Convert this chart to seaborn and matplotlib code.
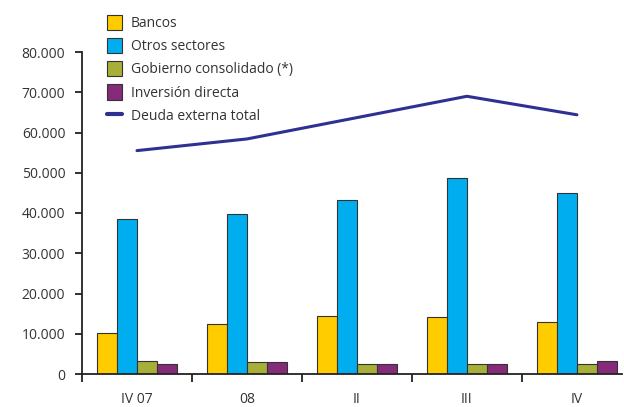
import numpy as np
import pandas as pd
import matplotlib
matplotlib.use("Agg")
import matplotlib.pyplot as plt
from matplotlib.patches import Patch
from matplotlib.lines import Line2D
from matplotlib.ticker import FuncFormatter, FixedLocator
import seaborn as sns

categories = ["IV 07", "08", "II", "III", "IV"]
bancos = [10300, 12400, 14500, 14100, 12800]
otros_sectores = [38600, 39800, 43300, 48800, 45000]
gobierno = [3300, 2900, 2500, 2500, 2500]
inversion = [2500, 2900, 2500, 2500, 3300]
deuda_total = [55500, 58400, 63700, 69000, 64400]
series_names = ["Bancos", "Otros sectores", "Gobierno consolidado (*)", "Inversión directa"]
line_name = "Deuda externa total"
y_ticks = [0, 10000, 20000, 30000, 40000, 50000, 60000, 70000, 80000]

colors = ["#FFCC00", "#00AEEF", "#A8AF39", "#862A7A"]
line_color = "#2E3192"

sns.set_theme(style="white")
plt.rcParams["font.family"] = ["Open Sans", "DejaVu Sans"]

rows = []
for name, vals in zip(series_names, [bancos, otros_sectores, gobierno, inversion]):
    for c, v in zip(categories, vals):
        rows.append({"cat": c, "serie": name, "valor": v})
df = pd.DataFrame(rows)

fig = plt.figure(figsize=(6.24, 4.07), dpi=100)
ax = fig.add_axes([82 / 624, (407 - 374) / 407, (622 - 82) / 624, (374 - 52) / 407])

sns.barplot(data=df, x="cat", y="valor", hue="serie", order=categories,
            hue_order=series_names, palette=colors, saturation=1, width=0.73, gap=0,
            edgecolor="#333333", linewidth=0.8, errorbar=None, ax=ax, legend=False)
sns.pointplot(x=categories, y=deuda_total, order=categories, color=line_color,
              markers="", linestyles="-", linewidth=2.2, errorbar=None, ax=ax)

ax.set_xlim(-0.5, 4.41)
ax.set_ylim(0, 80000)
ax.set_xlabel("")
ax.set_ylabel("")

for s in ["top", "right"]:
    ax.spines[s].set_visible(False)
for s in ["left", "bottom"]:
    ax.spines[s].set_color("#222222")
    ax.spines[s].set_linewidth(1.3)

ax.set_yticks(y_ticks)
ax.yaxis.set_major_formatter(FuncFormatter(lambda v, p: f"{int(v):,}".replace(",", ".")))
ax.tick_params(axis="y", direction="out", length=5, width=1.3, color="#222222",
               labelsize=10, pad=7, labelcolor="#333333", left=True)

ax.xaxis.set_major_locator(FixedLocator([-0.5, 0.5, 1.5, 2.5, 3.5]))
ax.xaxis.set_minor_locator(FixedLocator(list(range(len(categories)))))
ax.set_xticklabels([""] * 5)
ax.set_xticklabels(categories, minor=True)
ax.tick_params(axis="x", which="major", direction="out", length=6, width=1.3,
               color="#222222", bottom=True)
ax.tick_params(axis="x", which="minor", length=0, labelsize=10, pad=13,
               labelcolor="#333333", bottom=True)

handles = [Patch(facecolor=c, edgecolor="#333333", linewidth=0.8) for c in colors]
handles.append(Line2D([0], [0], color=line_color, linewidth=3))
labels = series_names + [line_name]
fig.legend(handles, labels, loc="upper left", bbox_to_anchor=(100 / 624, 1 - 8 / 407),
           frameon=False, fontsize=10, handlelength=1.1, handleheight=1.3,
           handletextpad=0.6, labelspacing=0.5, borderpad=0, labelcolor="#333333")

fig.savefig("out.png", dpi=100)
